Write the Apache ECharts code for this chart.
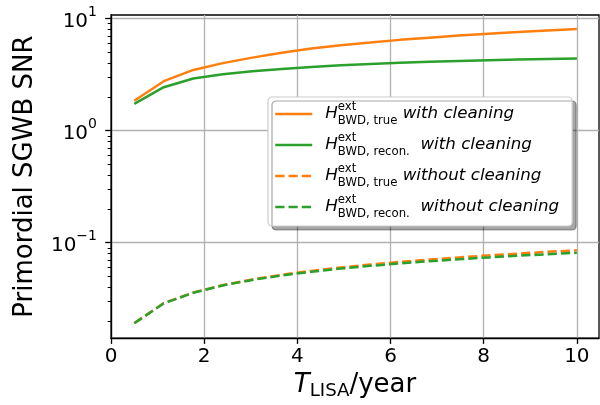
<!DOCTYPE html>
<html>
<head>
<meta charset="utf-8">
<script src="https://cdn.jsdelivr.net/npm/echarts@6/dist/echarts.min.js"></script>
<style>html,body{margin:0;padding:0;background:#fff;}#chart{width:600px;height:405px;}</style>
</head>
<body>
<div id="chart"></div>
<script>
// T_LISA in years
const tLisa = [0.5, 1.133, 1.767, 2.4, 3.033, 3.667, 4.3, 4.933, 5.567, 6.2, 6.833, 7.467, 8.1, 8.733, 9.367, 10];
// SNR, with cleaning
const trueWithCleaning = [1.85, 2.76, 3.48, 4.0, 4.48, 4.95, 5.4, 5.78, 6.1, 6.45, 6.75, 7.05, 7.32, 7.58, 7.83, 8.05];
const reconWithCleaning = [1.73, 2.44, 2.92, 3.18, 3.38, 3.55, 3.7, 3.82, 3.93, 4.03, 4.11, 4.18, 4.25, 4.31, 4.36, 4.40];
// SNR, without cleaning
const trueWithoutCleaning = [0.0192, 0.0289, 0.0360, 0.0419, 0.0471, 0.0518, 0.0561, 0.0601, 0.0639, 0.0674, 0.0708, 0.0740, 0.0771, 0.0800, 0.0829, 0.0856];
const reconWithoutCleaning = [0.0191, 0.0288, 0.0358, 0.0416, 0.0466, 0.0511, 0.0551, 0.0588, 0.0622, 0.0654, 0.0684, 0.0712, 0.0739, 0.0765, 0.0790, 0.0814];
// ticks
const xTicks = [0, 2, 4, 6, 8, 10];
const yMajorTicks = [0.1, 1, 10];
const yMinorTicks = [0.02, 0.03, 0.04, 0.05, 0.06, 0.07, 0.08, 0.09, 0.2, 0.3, 0.4, 0.5, 0.6, 0.7, 0.8, 0.9, 2, 3, 4, 5, 6, 7, 8, 9];
const seriesNames = ['true_with', 'recon_with', 'true_without', 'recon_without'];
const legendLabels = {
  true_with: '{H|H}{sup|ext}{sub|BWD, true}{it| with cleaning}',
  recon_with: '{H|H}{sup|ext}{sub|BWD, recon.}{it|  with cleaning}',
  true_without: '{H|H}{sup|ext}{sub|BWD, true}{it| without cleaning}',
  recon_without: '{H|H}{sup|ext}{sub|BWD, recon.}{it|  without cleaning}'
};

const FONT = 'DejaVu Sans';
const ORANGE = '#ff7f0e', GREEN = '#2ca02c';
const pairs = arr => tLisa.map((t, i) => [t, arr[i]]);
const dash = [9.25, 4];

const chart = echarts.init(document.getElementById('chart'), null, {renderer: 'canvas'});
chart.setOption({
  animation: false,
  backgroundColor: '#fff',
  textStyle: {fontFamily: FONT},
  grid: {left: 111, right: 1, top: 15, bottom: 65, show: true, borderColor: '#000', borderWidth: 1.3, backgroundColor: 'transparent'},
  legend: {
    orient: 'vertical', left: 268, top: 97,
    data: seriesNames,
    itemWidth: 37, itemHeight: 14, itemGap: 5,
    padding: [4, 13, 6, 6],
    backgroundColor: '#fff', borderColor: '#cccccc', borderWidth: 1.2, borderRadius: 4,
    shadowColor: 'rgba(0,0,0,0.35)', shadowBlur: 0, shadowOffsetX: 4, shadowOffsetY: 4,
    itemStyle: {opacity: 0},
    lineStyle: {width: 2.5},
    formatter: name => legendLabels[name],
    textStyle: {
      fontFamily: FONT, color: '#000',
      rich: {
        H: {fontFamily: FONT, fontStyle: 'italic', fontSize: 16.7, lineHeight: 26, verticalAlign: 'middle', padding: [0, 0, 0, 8], color: '#000'},
        sup: {fontFamily: FONT, fontSize: 11.7, lineHeight: 12, verticalAlign: 'top', width: 0, color: '#000'},
        sub: {fontFamily: FONT, fontSize: 11.7, lineHeight: 14, verticalAlign: 'bottom', color: '#000'},
        it: {fontFamily: FONT, fontStyle: 'italic', fontSize: 16.7, lineHeight: 26, verticalAlign: 'middle', color: '#000'}
      }
    }
  },
  xAxis: {
    type: 'value', min: 0, max: 10.475,
    name: '{it|T}{sub|LISA}{n|/year}', nameLocation: 'middle', nameGap: 31,
    nameTextStyle: {
      rich: {
        it: {fontFamily: FONT, fontStyle: 'italic', fontSize: 26, lineHeight: 30, verticalAlign: 'middle', color: '#000'},
        sub: {fontFamily: FONT, fontSize: 18.2, lineHeight: 20, verticalAlign: 'bottom', color: '#000'},
        n: {fontFamily: FONT, fontSize: 26, lineHeight: 30, verticalAlign: 'middle', color: '#000'}
      }
    },
    axisLine: {show: true, onZero: false, lineStyle: {color: '#000', width: 1.3}},
    axisTick: {show: true, customValues: xTicks, length: 5.8, lineStyle: {color: '#000', width: 1.3}},
    axisLabel: {customValues: xTicks, fontFamily: FONT, fontSize: 20, color: '#000', margin: 9},
    splitLine: {show: true, lineStyle: {color: '#b0b0b0', width: 1.3}}
  },
  yAxis: [{
    type: 'log', logBase: 10, min: 0.0141, max: 10.75,
    name: 'Primordial SGWB SNR', nameLocation: 'middle', nameRotate: 90, nameGap: 73,
    nameTextStyle: {fontFamily: FONT, fontSize: 26, color: '#000'},
    axisLine: {show: true, lineStyle: {color: '#000', width: 1.3}},
    axisTick: {show: true, customValues: yMajorTicks, length: 5.8, lineStyle: {color: '#000', width: 1.3}},
    axisLabel: {
      customValues: yMajorTicks, margin: 14,
      formatter: v => { const e = Math.round(Math.log10(v)); return '{b|10}{e|' + (e < 0 ? '\u2212' + (-e) : e) + '}'; },
      rich: {
        b: {fontFamily: FONT, fontSize: 20, lineHeight: 26, verticalAlign: 'bottom', color: '#000'},
        e: {fontFamily: FONT, fontSize: 14, lineHeight: 16, verticalAlign: 'top', color: '#000'}
      }
    },
    splitLine: {show: true, lineStyle: {color: '#b0b0b0', width: 1.3}}
  }, {
    type: 'log', logBase: 10, min: 0.0141, max: 10.75, position: 'left',
    axisLine: {show: false},
    axisTick: {show: true, customValues: yMinorTicks, length: 3.3, lineStyle: {color: '#000', width: 1}},
    axisLabel: {show: false},
    splitLine: {show: false}
  }],
  series: [
    {name: 'true_with', type: 'line', data: pairs(trueWithCleaning), showSymbol: false, symbol: 'none', lineStyle: {color: ORANGE, width: 2.5}, itemStyle: {color: ORANGE}},
    {name: 'recon_with', type: 'line', data: pairs(reconWithCleaning), showSymbol: false, symbol: 'none', lineStyle: {color: GREEN, width: 2.5}, itemStyle: {color: GREEN}},
    {name: 'true_without', type: 'line', data: pairs(trueWithoutCleaning), showSymbol: false, symbol: 'none', lineStyle: {color: ORANGE, width: 2.5, type: dash}, itemStyle: {color: ORANGE}},
    {name: 'recon_without', type: 'line', data: pairs(reconWithoutCleaning), showSymbol: false, symbol: 'none', lineStyle: {color: GREEN, width: 2.5, type: dash}, itemStyle: {color: GREEN}}
  ]
});
</script>
</body>
</html>
